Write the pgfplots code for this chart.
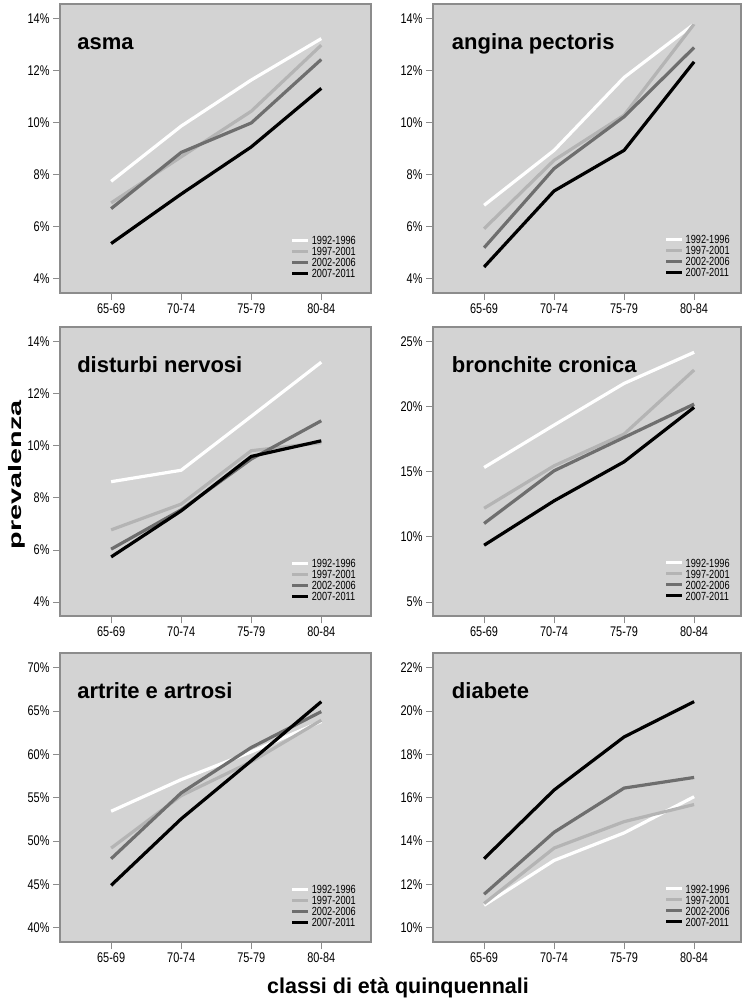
\documentclass[border=0pt]{standalone}
\usepackage{fontspec}
\setmainfont{Liberation Sans}
\newfontfamily\narrow[FakeStretch=0.78]{Liberation Sans}
\usepackage{graphicx}
\usepackage{pgfplots}
\pgfplotsset{compat=1.18}
\definecolor{bgg}{RGB}{211,211,211}
\definecolor{brd}{RGB}{140,140,140}
\definecolor{lg}{RGB}{180,180,180}
\definecolor{dg}{RGB}{110,110,110}

\pgfplotsset{
 panel/.style={
  scale only axis, width=311pt, height=289pt,
  xmin=-0.73, xmax=3.71,
  xtick={0,1,2,3}, xticklabels={65-69,70-74,75-79,80-84},
  xtick pos=bottom, ytick pos=left, tick align=outside,
  major tick length=7pt,
  tick style={draw=brd, line width=0.8pt},
  axis line style={draw=brd, line width=2pt},
  axis background/.style={fill=bgg},
  ticklabel style={font=\narrow\fontsize{14}{15}\selectfont, text=black},
  /pgf/number format/assume math mode=true,
  legend cell align=left,
  legend style={at={(rel axis cs:0.952,0.053)}, anchor=south east, draw=none, fill=none,
    font=\narrow\fontsize{11.8}{11.8}\selectfont, inner sep=0pt, row sep=2.3pt,
    nodes={inner sep=0pt, text height=8.7pt, text depth=0pt}},
  legend image code/.code={\draw[#1, line width=3.2pt] (0pt,0pt) -- (16pt,0pt);},
  /tikz/every odd column/.style={column sep=2pt},
  every axis plot/.append style={line width=3.2pt, line join=round, mark=none},
  anchor=north west,
 },
 rightpanel/.style={width=308pt, xmax=3.67, legend style={at={(rel axis cs:0.964,0.055)}}},
 p4/.style={ymin=3.45, ymax=14.55, ytick={4,6,8,10,12,14}, yticklabels={4\%,6\%,8\%,10\%,12\%,14\%}},
}
\newcommand\ttl[2]{\node[anchor=base west, font=\bfseries\fontsize{22}{22}\selectfont, inner sep=0pt] at (rel axis cs:#1,0.844) {#2};}
\newcommand\leg{\legend{1992-1996,1997-2001,2002-2006,2007-2011}}

\begin{document}
\begin{tikzpicture}
\useasboundingbox (0,0) rectangle (747pt,-1008pt);

% asma
\begin{axis}[panel, p4, at={(60pt,-4pt)}]
\addplot[white] coordinates {(0,7.74) (1,9.86) (2,11.63) (3,13.22)};
\addplot[lg] coordinates {(0,6.91) (1,8.68) (2,10.43) (3,12.97)};
\addplot[dg] coordinates {(0,6.69) (1,8.85) (2,9.98) (3,12.42)};
\addplot[black] coordinates {(0,5.35) (1,7.25) (2,9.06) (3,11.31)};
\leg
\ttl{0.055}{asma}
\end{axis}

% angina pectoris
\begin{axis}[panel, rightpanel, p4, at={(433pt,-4pt)}]
\addplot[white] coordinates {(0,6.82) (1,8.93) (2,11.73) (3,13.78)};
\addplot[lg] coordinates {(0,5.92) (1,8.55) (2,10.28) (3,13.78)};
\addplot[dg] coordinates {(0,5.19) (1,8.23) (2,10.22) (3,12.88)};
\addplot[black] coordinates {(0,4.45) (1,7.37) (2,8.93) (3,12.33)};
\leg
\ttl{0.061}{angina pectoris}
\end{axis}

% disturbi nervosi
\begin{axis}[panel, p4, at={(60pt,-327.3pt)}]
\addplot[white] coordinates {(0,8.62) (1,9.06) (2,11.13) (3,13.21)};
\addplot[lg] coordinates {(0,6.77) (1,7.76) (2,9.81) (3,10.12)};
\addplot[dg] coordinates {(0,6.03) (1,7.54) (2,9.49) (3,10.96)};
\addplot[black] coordinates {(0,5.73) (1,7.50) (2,9.59) (3,10.19)};
\leg
\ttl{0.055}{disturbi nervosi}
\end{axis}

% bronchite cronica
\begin{axis}[panel, rightpanel, at={(433pt,-327.3pt)}, ymin=3.9, ymax=26.1,
  ytick={5,10,15,20,25}, yticklabels={5\%,10\%,15\%,20\%,25\%}]
\addplot[white] coordinates {(0,15.33) (1,18.59) (2,21.79) (3,24.18)};
\addplot[lg] coordinates {(0,12.20) (1,15.46) (2,17.90) (3,22.82)};
\addplot[dg] coordinates {(0,11.03) (1,15.08) (2,17.64) (3,20.20)};
\addplot[black] coordinates {(0,9.36) (1,12.77) (2,15.77) (3,19.95)};
\leg
\ttl{0.061}{bronchite cronica}
\end{axis}

% artrite e artrosi
\begin{axis}[panel, at={(60pt,-653.3pt)}, ymin=38.33, ymax=71.67,
  ytick={40,45,50,55,60,65,70}, yticklabels={40\%,45\%,50\%,55\%,60\%,65\%,70\%}]
\addplot[white] coordinates {(0,53.45) (1,57.10) (2,60.30) (3,63.80)};
\addplot[lg] coordinates {(0,49.20) (1,55.25) (2,59.16) (3,63.95)};
\addplot[dg] coordinates {(0,47.97) (1,55.56) (2,60.80) (3,64.94)};
\addplot[black] coordinates {(0,44.90) (1,52.57) (2,59.27) (3,66.09)};
\leg
\ttl{0.055}{artrite e artrosi}
\end{axis}

% diabete
\begin{axis}[panel, rightpanel, at={(433pt,-653.3pt)}, ymin=9.33, ymax=22.67,
  ytick={10,12,14,16,18,20,22}, yticklabels={10\%,12\%,14\%,16\%,18\%,20\%,22\%}]
\addplot[white] coordinates {(0,11.04) (1,13.11) (2,14.38) (3,16.05)};
\addplot[lg] coordinates {(0,11.12) (1,13.68) (2,14.90) (3,15.69)};
\addplot[dg] coordinates {(0,11.55) (1,14.41) (2,16.45) (3,16.94)};
\addplot[black] coordinates {(0,13.19) (1,16.36) (2,18.81) (3,20.44)};
\leg
\ttl{0.061}{diabete}
\end{axis}

\node[rotate=90, font=\bfseries\fontsize{18}{18}\selectfont, inner sep=0pt] at (16.7pt,-475pt) {\scalebox{1.6}[1]{prevalenza}};
\node[anchor=base, font=\bfseries\fontsize{21.5}{21.5}\selectfont, inner sep=0pt] at (398pt,-993pt) {classi di età quinquennali};
\end{tikzpicture}
\end{document}
